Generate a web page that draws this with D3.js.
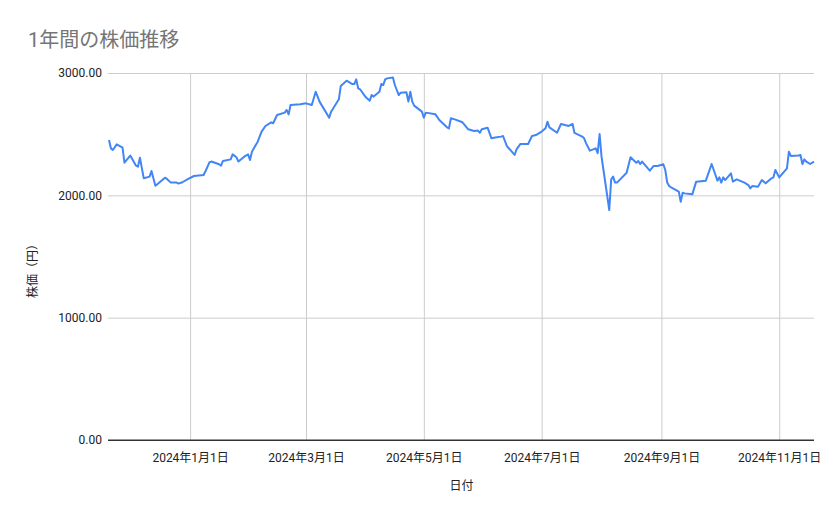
<!DOCTYPE html>
<html>
<head>
<meta charset="utf-8">
<script src="https://cdn.jsdelivr.net/npm/d3@7"></script>
<style>
  body { margin: 0; background: #fff; }
  text { font-family: Roboto, "Noto Sans CJK JP", sans-serif; }
</style>
</head>
<body>
<svg id="chart"></svg>
<script>
// dates and closing prices
const dates = [
  '2023-11-20','2023-11-21','2023-11-22','2023-11-24','2023-11-27','2023-11-28','2023-12-01','2023-12-04',
  '2023-12-05','2023-12-06','2023-12-08','2023-12-11','2023-12-12','2023-12-14','2023-12-15','2023-12-19',
  '2023-12-20','2023-12-22','2023-12-25','2023-12-26','2023-12-28','2023-12-31','2024-01-03','2024-01-08',
  '2024-01-09','2024-01-11','2024-01-12','2024-01-16','2024-01-17','2024-01-18','2024-01-22','2024-01-23',
  '2024-01-25','2024-01-26','2024-01-29','2024-01-31','2024-02-01','2024-02-02','2024-02-05','2024-02-07',
  '2024-02-09','2024-02-12','2024-02-13','2024-02-15','2024-02-19','2024-02-20','2024-02-21','2024-02-22',
  '2024-02-27','2024-03-01','2024-03-04','2024-03-06','2024-03-08','2024-03-13','2024-03-14','2024-03-18',
  '2024-03-19','2024-03-22','2024-03-25','2024-03-26','2024-03-27','2024-03-28','2024-03-29','2024-04-01',
  '2024-04-03','2024-04-04','2024-04-05','2024-04-08','2024-04-09','2024-04-10','2024-04-11','2024-04-12',
  '2024-04-15','2024-04-16','2024-04-17','2024-04-18','2024-04-19','2024-04-22','2024-04-23','2024-04-24',
  '2024-04-25','2024-04-26','2024-04-30','2024-05-01','2024-05-02','2024-05-07','2024-05-09','2024-05-13',
  '2024-05-14','2024-05-15','2024-05-17','2024-05-21','2024-05-24','2024-05-27','2024-05-29','2024-05-30',
  '2024-05-31','2024-06-03','2024-06-05','2024-06-07','2024-06-10','2024-06-11','2024-06-13','2024-06-17',
  '2024-06-18','2024-06-20','2024-06-24','2024-06-25','2024-06-26','2024-06-28','2024-07-01','2024-07-03',
  '2024-07-04','2024-07-05','2024-07-09','2024-07-11','2024-07-15','2024-07-17','2024-07-18','2024-07-22',
  '2024-07-23','2024-07-24','2024-07-26','2024-07-29','2024-07-30','2024-07-31','2024-08-01','2024-08-02',
  '2024-08-05','2024-08-06','2024-08-07','2024-08-08','2024-08-09','2024-08-14','2024-08-16','2024-08-19',
  '2024-08-20','2024-08-21','2024-08-22','2024-08-26','2024-08-28','2024-08-30','2024-09-02','2024-09-03',
  '2024-09-04','2024-09-05','2024-09-06','2024-09-10','2024-09-11','2024-09-12','2024-09-13','2024-09-17',
  '2024-09-19','2024-09-24','2024-09-27','2024-09-29','2024-09-30','2024-10-01','2024-10-02','2024-10-03',
  '2024-10-04','2024-10-07','2024-10-08','2024-10-10','2024-10-14','2024-10-16','2024-10-17','2024-10-18',
  '2024-10-21','2024-10-23','2024-10-25','2024-10-28','2024-10-29','2024-10-30','2024-11-01','2024-11-04',
  '2024-11-05','2024-11-06','2024-11-07','2024-11-11','2024-11-12','2024-11-13','2024-11-14','2024-11-15',
  '2024-11-17','2024-11-19'
]

const prices = [
  2452, 2384, 2371, 2417, 2390, 2267, 2325, 2242,
  2234, 2308, 2139, 2153, 2199, 2079, 2090, 2144,
  2134, 2104, 2104, 2096, 2107, 2134, 2158, 2166,
  2199, 2270, 2276, 2254, 2242, 2281, 2294, 2335,
  2311, 2276, 2316, 2335, 2289, 2357, 2439, 2521,
  2567, 2597, 2589, 2657, 2676, 2698, 2662, 2738,
  2744, 2752, 2738, 2847, 2766, 2635, 2684, 2785,
  2894, 2937, 2910, 2910, 2948, 2875, 2867, 2801,
  2774, 2820, 2807, 2847, 2910, 2902, 2948, 2956,
  2964, 2902, 2861, 2820, 2839, 2842, 2766, 2847,
  2766, 2733, 2684, 2635, 2676, 2662, 2616, 2556,
  2547, 2630, 2621, 2597, 2540, 2526, 2529, 2512,
  2540, 2553, 2466, 2472, 2480, 2485, 2403, 2330,
  2376, 2420, 2420, 2452, 2485, 2493, 2521, 2548,
  2602, 2556, 2512, 2583, 2567, 2583, 2510, 2480,
  2466, 2425, 2365, 2384, 2344, 2501, 2316, 2207,
  1880, 2131, 2153, 2104, 2104, 2185, 2311, 2267,
  2281, 2256, 2276, 2202, 2240, 2240, 2254, 2207,
  2104, 2076, 2066, 2030, 1948, 2022, 2016, 2008,
  2112, 2120, 2256, 2166, 2120, 2147, 2104, 2147,
  2125, 2180, 2112, 2131, 2104, 2084, 2057, 2076,
  2071, 2125, 2098, 2139, 2147, 2207, 2147, 2202,
  2221, 2357, 2322, 2325, 2330, 2256, 2294, 2276,
  2256, 2276
]

const xTicks = ['2024-01-01','2024-03-01','2024-05-01','2024-07-01','2024-09-01','2024-11-01']
const yTicks = [0, 1000, 2000, 3000]

const title = '1年間の株価推移'
const xTitle = '日付'
const yTitle = '株価（円）'

const W = 839
const H = 519
const m = { left: 109, right: 25, top: 73, bottom: 79 }
const w = W - m.left - m.right
const h = H - m.top - m.bottom

const parse = d3.timeParse('%Y-%m-%d')
const data = dates.map((d, i) => [parse(d), prices[i]])

const svg = d3.select('#chart')
    .attr('width', W)
    .attr('height', H)

const xScale = d3.scaleTime()
    .domain(d3.extent(data, d => d[0]))
    .range([0, w])
const yScale = d3.scaleLinear()
    .domain([0, 3000])
    .range([h, 0])

const g = svg.append('g')
    .attr('transform', `translate(${m.left}, ${m.top})`)

// horizontal grid + y labels
const yAxis = d3.axisLeft(yScale)
    .tickValues(yTicks)
    .tickSize(-w)
    .tickPadding(7)
    .tickFormat(d => d3.format('.2f')(d))
const gy = g.append('g').call(yAxis)
gy.select('.domain').remove()
gy.selectAll('line')
    .attr('stroke', d => d === 0 ? '#333' : '#ccc')
    .attr('x1', -1)
gy.selectAll('text')
    .attr('fill', '#222')
    .style('font-size', '12px')

// vertical grid + x labels
const xAxis = d3.axisBottom(xScale)
    .tickValues(xTicks.map(parse))
    .tickSize(-h)
    .tickPadding(13)
    .tickFormat(d3.timeFormat('%Y年%-m月%-d日'))
const gx = g.append('g')
    .attr('transform', `translate(0, ${h})`)
    .call(xAxis)
gx.select('.domain').remove()
gx.selectAll('line').attr('stroke', '#ccc')
gx.selectAll('text')
    .attr('fill', '#222')
    .style('font-size', '12px')

// baseline again on top of vertical grid
g.append('line')
    .attr('x1', -1)
    .attr('x2', w)
    .attr('y1', yScale(0))
    .attr('y2', yScale(0))
    .attr('stroke', '#333')

const line = d3.line()
    .x(d => xScale(d[0]))
    .y(d => yScale(d[1]))

g.append('path')
    .datum(data)
    .attr('d', line)
    .attr('fill', 'none')
    .attr('stroke', '#4285f4')
    .attr('stroke-width', 2)
    .attr('stroke-linejoin', 'round')

svg.append('text')
    .attr('x', 28)
    .attr('y', 47)
    .attr('fill', '#757575')
    .style('font-size', '20px')
    .text(title)

svg.append('text')
    .attr('x', m.left + w / 2)
    .attr('y', 490)
    .attr('text-anchor', 'middle')
    .attr('fill', '#222')
    .style('font-size', '12px')
    .text(xTitle)

svg.append('text')
    .attr('transform', 'translate(37, 268) rotate(-90)')
    .attr('text-anchor', 'middle')
    .attr('fill', '#222')
    .style('font-size', '12px')
    .text(yTitle)
</script>
</body>
</html>
